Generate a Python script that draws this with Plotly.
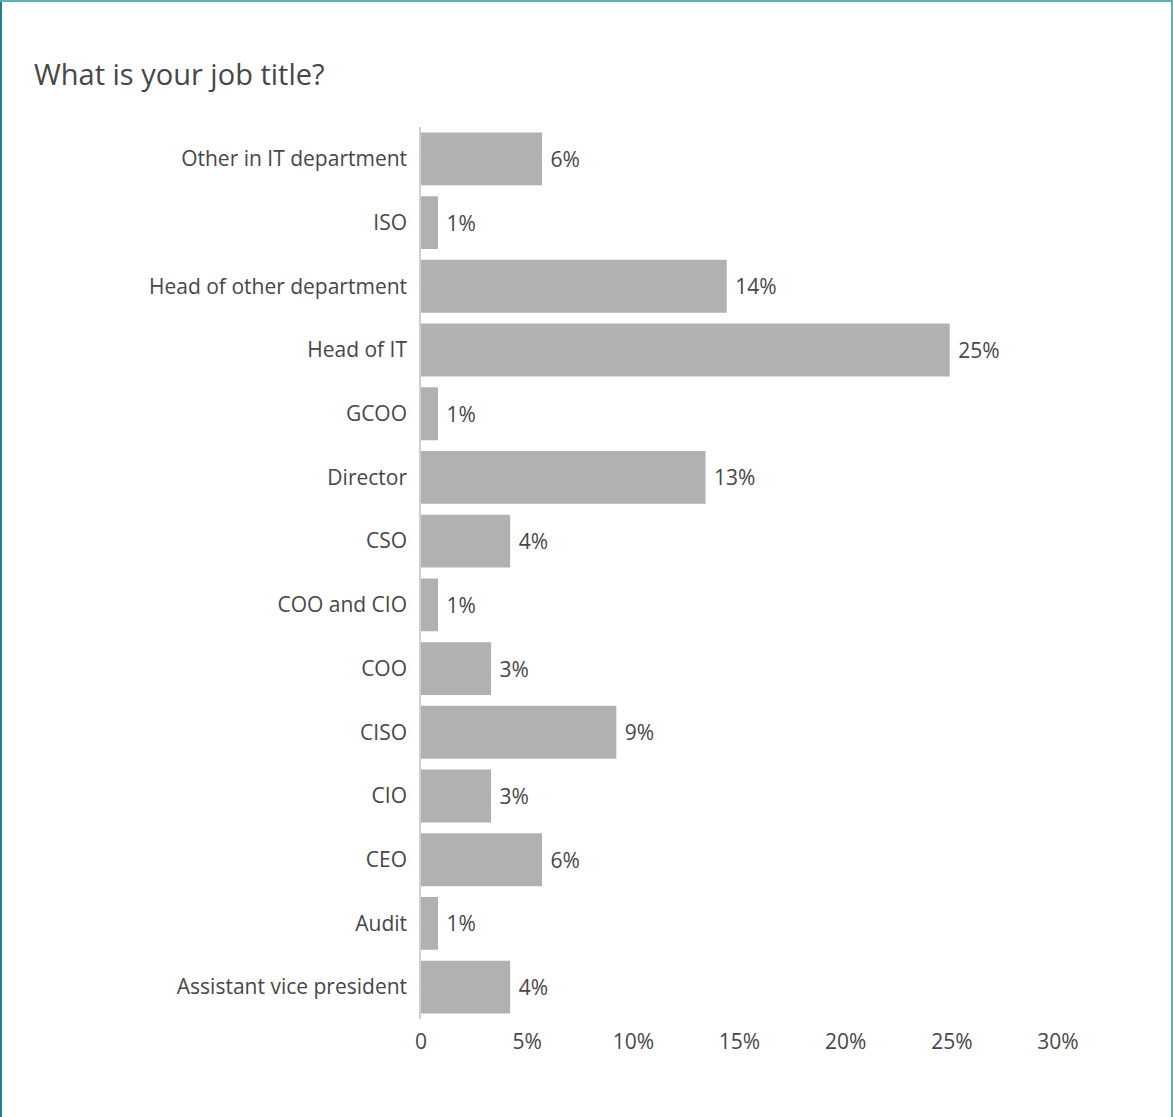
import plotly.graph_objects as go

categories = ["Assistant vice president", "Audit", "CEO", "CIO", "CISO", "COO",
              "COO and CIO", "CSO", "Director", "GCOO", "Head of IT",
              "Head of other department", "ISO", "Other in IT department"]
values = [4.2, 0.8, 5.7, 3.3, 9.2, 3.3, 0.8, 4.2, 13.4, 0.8, 24.9, 14.4, 0.8, 5.7]
value_labels = ["4%", "1%", "6%", "3%", "9%", "3%", "1%", "4%", "13%", "1%", "25%", "14%", "1%", "6%"]
tick_vals = [0, 5, 10, 15, 20, 25, 30]
tick_text = ["0", "5%", "10%", "15%", "20%", "25%", "30%"]

W, H = 1173, 1117
ml, mr, mt, mb = 421, 115, 127, 98
pw = W - ml - mr
ph = H - mt - mb

FONT = "Open Sans"
TXT = "#474747"

fig = go.Figure(go.Bar(
    y=categories, x=values, orientation="h",
    marker=dict(color="#b1b1b1", line=dict(width=0)),
    text=value_labels, texttemplate="\u00a0%{text}",
    textposition="outside", cliponaxis=False,
    textfont=dict(family=FONT, size=21, color=TXT),
    hoverinfo="skip",
))

fig.update_layout(
    width=W, height=H,
    margin=dict(l=ml, r=mr, t=mt, b=mb, autoexpand=False),
    paper_bgcolor="white", plot_bgcolor="white",
    bargap=0.17,
    showlegend=False,
    font=dict(family=FONT, color=TXT, size=21),
    title=dict(text="What is your job title?", x=34 / W, xanchor="left",
               y=1 - 75 / H, yanchor="middle",
               font=dict(family=FONT, size=29, color=TXT)),
    xaxis=dict(range=[0, 30], tickvals=tick_vals, ticktext=tick_text,
               showgrid=False, zeroline=False, showline=False,
               ticks="outside", ticklen=4, tickcolor="rgba(0,0,0,0)",
               tickfont=dict(family=FONT, size=21, color=TXT)),
    yaxis=dict(showgrid=False, zeroline=False, showline=True,
               linecolor="#cfcfcf", linewidth=1.5,
               ticks="outside", ticklen=8, tickcolor="rgba(0,0,0,0)",
               tickfont=dict(family=FONT, size=21, color=TXT)),
)

# outer frame
def px_x(p):
    return (p - ml) / pw

def px_y(p):
    return 1 - (p - mt) / ph

fig.add_shape(type="line", xref="paper", yref="paper",
              x0=px_x(1), x1=px_x(1), y0=px_y(0), y1=px_y(H),
              line=dict(color="#1f7f8c", width=2))
fig.add_shape(type="line", xref="paper", yref="paper",
              x0=px_x(W - 1), x1=px_x(W - 1), y0=px_y(0), y1=px_y(H),
              line=dict(color="#5fb0bb", width=2))
fig.add_shape(type="line", xref="paper", yref="paper",
              x0=px_x(0), x1=px_x(W), y0=px_y(1), y1=px_y(1),
              line=dict(color="#5fb0bb", width=2))

fig.write_html("out.html", config={"displayModeBar": False},
               post_script="document.body.style.margin='0';")
